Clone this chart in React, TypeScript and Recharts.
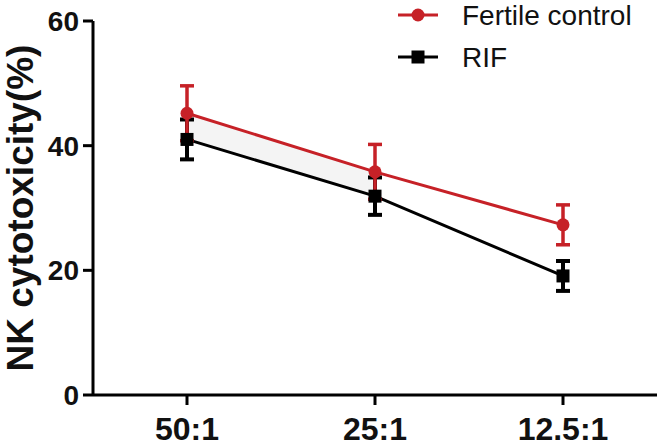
import React from 'react';
import { ComposedChart, Line, Area, XAxis, YAxis, ErrorBar } from 'recharts';

const categories = ['50:1', '25:1', '12.5:1'];
const fertileValues = [45.2, 35.8, 27.3];
const fertileErrors = [4.4, 4.4, 3.2];
const rifValues = [41.0, 31.9, 19.1];
const rifErrors = [3.2, 3.0, 2.4];
const shadedBetween = [true, true, false];
const yTicks = [0, 20, 40, 60];

const RED = '#c62127';
const BLACK = '#000000';
const FONT = '"Liberation Sans", Arial, Helvetica, sans-serif';

const data = categories.map((c, i) => ({
  cat: c,
  fertile: fertileValues[i],
  fertileErr: fertileErrors[i],
  rif: rifValues[i],
  rifErr: rifErrors[i],
  band: shadedBetween[i] ? [rifValues[i], fertileValues[i]] : null,
}));

const SquareDot = (props: any) => {
  const { cx, cy } = props;
  if (cx == null || cy == null) return null;
  return <rect x={cx - 6.5} y={cy - 6.5} width={13} height={13} fill={BLACK} />;
};

const CircleDot = (props: any) => {
  const { cx, cy } = props;
  if (cx == null || cy == null) return null;
  return <circle cx={cx} cy={cy} r={6.5} fill={RED} />;
};

const LegendBox = () => (
  <svg width={266} height={80} style={{ display: 'block', position: 'absolute', left: 395, top: 0 }}>
    <line x1={3} y1={15} x2={43} y2={15} stroke={RED} strokeWidth={3} />
    <circle cx={23} cy={15} r={6.5} fill={RED} />
    <text x={67} y={15} dy="0.355em" fontSize={28} fontFamily={FONT} fill="#111">Fertile control</text>
    <line x1={3} y1={57} x2={43} y2={57} stroke={BLACK} strokeWidth={3} />
    <rect x={16.5} y={50.5} width={13} height={13} fill={BLACK} />
    <text x={67} y={57} dy="0.355em" fontSize={28} fontFamily={FONT} fill="#111">RIF</text>
  </svg>
);

const YLabel = () => (
  <text
    x={33}
    y={208}
    transform="rotate(-90, 33, 208)"
    textAnchor="middle"
    fontSize={37}
    fontWeight="bold"
    fontFamily={FONT}
    fill="#111"
  >
    NK cytotoxicity(%)
  </text>
);

export default function App() {
  return (
    <div style={{ position: 'absolute', left: 0, top: 0, width: 661, height: 447, background: '#fff' }}>
      <ComposedChart
        width={661}
        height={447}
        data={data}
        margin={{ top: 21, right: 4, left: 0, bottom: 0 }}
      >
        <XAxis
          dataKey="cat"
          height={52}
          padding={{ left: 94, right: 94 }}
          axisLine={{ stroke: BLACK, strokeWidth: 3 }}
          tickLine={{ stroke: BLACK, strokeWidth: 3 }}
          tickSize={10}
          tickMargin={12}
          tick={{ fontSize: 32, fontWeight: 'bold', fontFamily: FONT, fill: '#111' }}
          interval={0}
        />
        <YAxis
          width={93}
          domain={[0, 60]}
          ticks={yTicks}
          axisLine={{ stroke: BLACK, strokeWidth: 3 }}
          tickLine={{ stroke: BLACK, strokeWidth: 3 }}
          tickSize={10}
          tickMargin={4}
          tick={{ fontSize: 28, fontWeight: 'bold', fontFamily: FONT, fill: '#111' }}
          label={<YLabel />}
        />
        <Area
          dataKey="band"
          fill="#f4f4f4"
          fillOpacity={1}
          stroke="none"
          connectNulls={false}
          isAnimationActive={false}
          activeDot={false}
          dot={false}
        />
        <Line
          dataKey="rif"
          stroke={BLACK}
          strokeWidth={3}
          dot={<SquareDot />}
          activeDot={false}
          isAnimationActive={false}
        >
          <ErrorBar dataKey="rifErr" width={7} strokeWidth={4} stroke={BLACK} direction="y" />
        </Line>
        <Line
          dataKey="fertile"
          stroke={RED}
          strokeWidth={3}
          dot={<CircleDot />}
          activeDot={false}
          isAnimationActive={false}
        >
          <ErrorBar dataKey="fertileErr" width={7} strokeWidth={3.5} stroke={RED} direction="y" />
        </Line>
      </ComposedChart>
      <LegendBox />
    </div>
  );
}
